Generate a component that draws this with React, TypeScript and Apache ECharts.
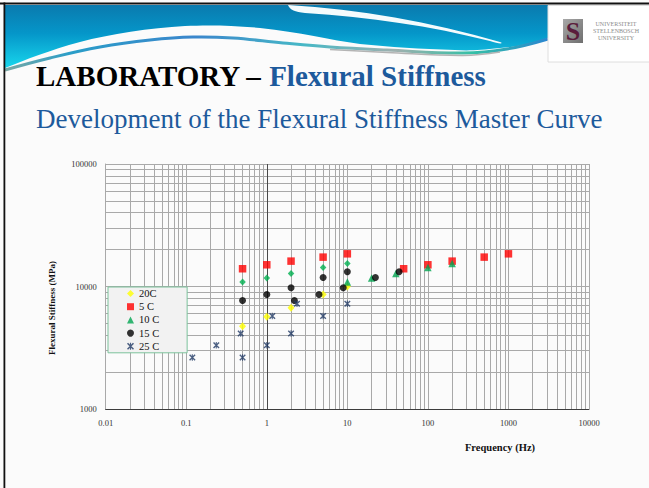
import React, { useEffect, useRef } from 'react';
import * as echarts from 'echarts';

// ---------- data ----------
const seriesNames = ['20C', '5 C', '10 C', '15 C', '25 C'];

const freq20 = [0.5, 1, 2, 5, 10];
const stiff20 = [4730, 5670, 6710, 8610, 10000];

const freq5 = [0.5, 1, 2, 5, 10, 50, 100, 200, 500, 1000];
const stiff5 = [13960, 15040, 16110, 17370, 18480, 13960, 15040, 16110, 17370, 18480];

const freq10Measured = [0.5, 1, 2, 5, 10];
const stiff10Measured = [10870, 11720, 12770, 14300, 15410];
const freq10Shifted = [10, 20, 40, 100, 200];
const stiff10Shifted = [10870, 11720, 12770, 14300, 15410];

const freq15 = [0.5, 1, 2, 5, 10, 2.2, 4.45, 8.9, 22.3, 43.9];
const stiff15 = [7690, 8610, 9770, 11850, 13190, 7690, 8610, 9770, 11850, 13190];

const freq25 = [0.5, 1, 2, 5, 10, 0.119, 0.236, 0.474, 1.17, 2.37];
const stiff25 = [2630, 3310, 4140, 5740, 7230, 2630, 3310, 4140, 5740, 7230];

const xTickLabels = ['0.01', '0.1', '1', '10', '100', '1000', '10000'];
const yTickLabels = ['1000', '10000', '100000'];
const xDecades = [-2, -1, 0, 1, 2, 3];
const yDecades = [3, 4];
const minorSteps = [2, 3, 4, 5, 6, 7, 8, 9];

// ---------- decoration shapes ----------
const blueD =
  'M5,5 L548,5 L548,38 C530,44 515,47 500,48 C480,50 470,51 455,50 C420,49 390,47 360,44 C330,40 300,32 260,28 C230,25 205,25 185,26 C150,28 110,34 80,42 C50,50 25,60 5,68 Z';
const swooshD =
  'M288,5 C360,9 430,22 500,42 C505,44 498,44 490,41 C430,26 370,17 305,13 C295,12 290,10 288,5 Z';
echarts.graphic.registerShape('hdrBlue', echarts.graphic.extendPath(blueD, {}));
echarts.graphic.registerShape('hdrSwoosh', echarts.graphic.extendPath(swooshD, {}));

const SERIF = '"Liberation Serif", "Times New Roman", serif';

function pairs(xs: number[], ys: number[]) {
  return xs.map((x, i) => [x, ys[i]]);
}

const starPath =
  'path://M0,1.5 L1.5,0 L10,8.5 L8.5,10 Z M8.5,0 L10,1.5 L1.5,10 L0,8.5 Z M4.2,0 L5.8,0 L5.8,10 L4.2,10 Z';

export default function App() {
  const ref = useRef<HTMLDivElement>(null);

  useEffect(() => {
    if (!ref.current) return;
    const chart = echarts.init(ref.current, undefined, { renderer: 'svg' });

    const xMinor: any[] = [];
    xDecades.forEach((d) => minorSteps.forEach((m) => xMinor.push({ xAxis: m * Math.pow(10, d) })));
    const yMinor: any[] = [];
    yDecades.forEach((d) => minorSteps.forEach((m) => yMinor.push({ yAxis: m * Math.pow(10, d) })));

    const gridColor = '#a9a9a9';

    const option: any = {
      animation: false,
      backgroundColor: 'transparent',
      grid: { left: 105.7, top: 164, right: 60, bottom: 79, containLabel: false },
      xAxis: {
        type: 'log',
        logBase: 10,
        min: 0.01,
        max: 10000,
        axisLine: { show: true, lineStyle: { color: '#3c3c3c', width: 1 } },
        axisTick: { show: false },
        axisLabel: {
          margin: 9,
          fontSize: 8.5,
          fontFamily: SERIF,
          color: '#333',
          formatter: (v: number) => xTickLabels[Math.round(Math.log10(v)) + 2] ?? '',
        },
        splitLine: { show: true, lineStyle: { color: gridColor, width: 1 } },
      },
      yAxis: {
        type: 'log',
        logBase: 10,
        min: 1000,
        max: 100000,
        axisLine: { show: true, lineStyle: { color: gridColor, width: 1 } },
        axisTick: { show: false },
        axisLabel: {
          margin: 9,
          fontSize: 8.5,
          fontFamily: SERIF,
          color: '#333',
          formatter: (v: number) => yTickLabels[Math.round(Math.log10(v)) - 3] ?? '',
        },
        splitLine: { show: true, lineStyle: { color: gridColor, width: 1 } },
      },
      legend: {
        data: seriesNames,
        orient: 'vertical',
        left: 108,
        top: 287,
        z: 10,
        itemWidth: 7,
        itemHeight: 7,
        itemGap: 2.2,
        padding: [1, 28, 1, 19],
        backgroundColor: '#f2f2f2',
        borderColor: '#7cc29c',
        borderWidth: 1,
        borderRadius: 0,
        textStyle: { fontFamily: SERIF, fontSize: 10.5, color: '#111', lineHeight: 10 },
      },
      series: [
        {
          type: 'scatter',
          data: [],
          silent: true,
          z: 1,
          markLine: {
            silent: true,
            z: 1,
            symbol: 'none',
            animation: false,
            label: { show: false },
            lineStyle: { color: gridColor, width: 1, type: 'solid' },
            emphasis: { disabled: true },
            data: [
              ...xMinor,
              ...yMinor,
              { xAxis: 1, lineStyle: { color: '#4a4a4a', width: 1, type: 'solid' } },
            ],
          },
        },
        {
          name: '20C',
          type: 'scatter',
          symbol: 'diamond',
          symbolSize: [7, 8],
          itemStyle: { color: '#ffff00' },
          z: 3,
          data: pairs(freq20, stiff20),
        },
        {
          name: '5 C',
          type: 'scatter',
          symbol: 'rect',
          symbolSize: 7.5,
          itemStyle: { color: '#ff0000' },
          z: 3,
          data: pairs(freq5, stiff5),
        },
        {
          name: '10 C',
          type: 'scatter',
          symbol: 'triangle',
          symbolSize: 7.5,
          itemStyle: { color: '#00a550' },
          z: 3,
          data: pairs(freq10Shifted, stiff10Shifted),
        },
        {
          name: '10 C measured',
          type: 'scatter',
          symbol: 'diamond',
          symbolSize: [6.5, 7],
          itemStyle: { color: '#00b050' },
          z: 3,
          data: pairs(freq10Measured, stiff10Measured),
        },
        {
          name: '15 C',
          type: 'scatter',
          symbol: 'circle',
          symbolSize: 7,
          itemStyle: { color: '#000000' },
          z: 3,
          data: pairs(freq15, stiff15),
        },
        {
          name: '25 C',
          type: 'scatter',
          symbol: starPath,
          symbolSize: 6.5,
          itemStyle: { color: '#1f3864' },
          z: 3,
          data: pairs(freq25, stiff25),
        },
      ],
      graphic: [
        {
          type: 'hdrBlue',
          x: 0,
          y: 0,
          silent: true,
          style: {
            fill: new echarts.graphic.LinearGradient(0, 0, 0, 1, [
              { offset: 0, color: '#0a7aae' },
              { offset: 0.45, color: '#0596c9' },
              { offset: 1, color: '#18d6ec' },
            ]),
          },
        },
        {
          type: 'hdrSwoosh',
          x: 0,
          y: 0,
          silent: true,
          style: { fill: '#f4fbfd' },
        },
        {
          type: 'polyline',
          silent: true,
          shape: {
            smooth: 0.4,
            points: [
              [5, 70], [50, 58], [100, 47], [150, 40], [193, 37], [233, 38], [283, 43],
              [330, 47], [387, 50], [463, 53], [507, 49], [548, 39],
            ],
          },
          style: {
            fill: 'none',
            lineWidth: 3,
            stroke: new echarts.graphic.LinearGradient(0, 0, 1, 0, [
              { offset: 0, color: '#7aa8a4' },
              { offset: 0.12, color: '#2a9ec8' },
              { offset: 0.35, color: '#3a86cc' },
              { offset: 0.55, color: '#47b8c6' },
              { offset: 0.72, color: '#9fb0ae' },
              { offset: 0.86, color: '#35c0a6' },
              { offset: 1, color: '#2a86d0' },
            ]),
          },
        },
        {
          type: 'polyline',
          silent: true,
          shape: {
            smooth: 0.4,
            points: [[330, 49.5], [387, 52.5], [463, 55.5], [500, 52]],
          },
          style: { fill: 'none', lineWidth: 1.5, stroke: '#b4b4b4' },
        },
        // frame
        { type: 'rect', silent: true, shape: { x: 0, y: 2.5, width: 649, height: 2 }, style: { fill: '#111' } },
        { type: 'rect', silent: true, shape: { x: 3.5, y: 2.5, width: 1.8, height: 486 }, style: { fill: '#111' } },
        // logo box
        {
          type: 'rect',
          silent: true,
          shape: { x: 548, y: 5.5, width: 102, height: 56.5 },
          style: { fill: '#ffffff', stroke: '#dedede', lineWidth: 1 },
        },
        {
          type: 'rect',
          silent: true,
          shape: { x: 563, y: 19, width: 20, height: 24 },
          style: {
            fill: new echarts.graphic.LinearGradient(0, 0, 1, 1, [
              { offset: 0, color: '#a8a8a8' },
              { offset: 1, color: '#6f6f6f' },
            ]),
          },
        },
        {
          type: 'text',
          silent: true,
          x: 573,
          y: 31,
          style: {
            text: 'S',
            fontFamily: SERIF,
            fontWeight: 'bold',
            fontSize: 26,
            fill: '#5a1c3c',
            align: 'center',
            verticalAlign: 'middle',
          },
        },
        {
          type: 'text', silent: true, x: 616, y: 23.5,
          style: { text: 'UNIVERSITEIT', fontFamily: SERIF, fontSize: 6, fill: '#8c8c8c', align: 'center', verticalAlign: 'middle' },
        },
        {
          type: 'text', silent: true, x: 616, y: 30.5,
          style: { text: 'STELLENBOSCH', fontFamily: SERIF, fontSize: 6, fill: '#8c8c8c', align: 'center', verticalAlign: 'middle' },
        },
        {
          type: 'text', silent: true, x: 616, y: 38,
          style: { text: 'UNIVERSITY', fontFamily: SERIF, fontSize: 6, fill: '#8c8c8c', align: 'center', verticalAlign: 'middle' },
        },
        // titles
        {
          type: 'text',
          silent: true,
          x: 36,
          y: 76,
          style: {
            text: '{a|LABORATORY – }{b|Flexural Stiffness}',
            verticalAlign: 'middle',
            align: 'left',
            rich: {
              a: { fontFamily: SERIF, fontWeight: 'bold', fontSize: 29, fill: '#000000', color: '#000000' },
              b: { fontFamily: SERIF, fontWeight: 'bold', fontSize: 29, fill: '#1d5a9c', color: '#1d5a9c' },
            },
          },
        },
        {
          type: 'text',
          silent: true,
          x: 36,
          y: 119,
          style: {
            text: 'Development of the Flexural Stiffness Master Curve',
            fontFamily: SERIF,
            fontSize: 27,
            fill: '#1d5a9c',
            align: 'left',
            verticalAlign: 'middle',
          },
        },
        // axis titles
        {
          type: 'text',
          silent: true,
          x: 51.7,
          y: 308,
          rotation: Math.PI / 2,
          style: {
            text: 'Flexural Stiffness (MPa)',
            fontFamily: SERIF,
            fontWeight: 'bold',
            fontSize: 9,
            fill: '#111',
            align: 'center',
            verticalAlign: 'middle',
          },
        },
        {
          type: 'text',
          silent: true,
          x: 500,
          y: 447,
          style: {
            text: 'Frequency (Hz)',
            fontFamily: SERIF,
            fontWeight: 'bold',
            fontSize: 10.5,
            fill: '#111',
            align: 'center',
            verticalAlign: 'middle',
          },
        },
      ],
    };

    chart.setOption(option);
    return () => chart.dispose();
  }, []);

  return (
    <div
      ref={ref}
      style={{ position: 'fixed', left: 0, top: 0, width: 649, height: 488, background: '#fbfbfb' }}
    />
  );
}
